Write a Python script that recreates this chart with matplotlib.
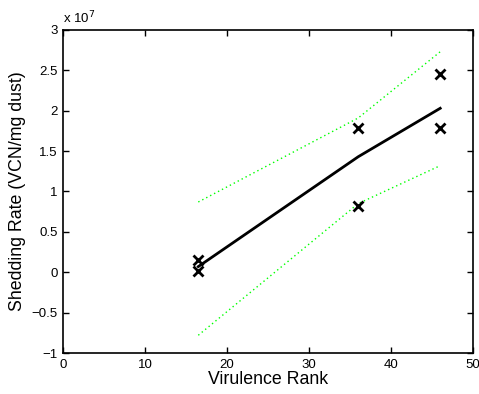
import matplotlib
matplotlib.use("Agg")
import matplotlib.pyplot as plt
import numpy as np

plt.rcParams['font.family'] = ['Liberation Sans', 'DejaVu Sans']
plt.rcParams['axes.unicode_minus'] = True

# data (values in units of 1e7)
rank = [16.5, 16.5, 36, 36, 46, 46]
shedding = [0.15, 0.02, 1.78, 0.82, 2.45, 1.78]
fit_x = [16.5, 36, 46]
fit_y = [0.07, 1.43, 2.03]
upper_y = [0.87, 1.91, 2.73]
lower_y = [-0.78, 0.85, 1.32]

x_ticks = [0, 10, 20, 30, 40, 50]
y_ticks = [-1, -0.5, 0, 0.5, 1, 1.5, 2, 2.5, 3]
y_tick_labels = ['\u22121', '\u22120.5', '0', '0.5', '1', '1.5', '2', '2.5', '3']

fig = plt.figure(figsize=(4.79, 3.94), dpi=100)
ax = fig.add_axes([0.1315, 0.104, 0.856, 0.820])

ax.plot(fit_x, fit_y, color='black', lw=2)
ax.plot(fit_x, upper_y, color='#00ff00', lw=1, linestyle=(0, (1, 2.2)))
ax.plot(fit_x, lower_y, color='#00ff00', lw=1, linestyle=(0, (1, 2.2)))
ax.plot(rank, shedding, linestyle='none', marker='x', color='black',
        markersize=7, markeredgewidth=2)

ax.set_xlim(0, 50)
ax.set_ylim(-1, 3)
ax.set_xticks(x_ticks)
ax.set_xticklabels([str(t) for t in x_ticks])
ax.set_yticks(y_ticks)
ax.set_yticklabels(y_tick_labels)
ax.tick_params(direction='in', top=True, right=True, length=4, width=1,
               labelsize=9.5, pad=4)
for s in ax.spines.values():
    s.set_linewidth(1.2)

ax.set_xlabel('Virulence Rank', fontsize=12.8, labelpad=0)
ax.set_ylabel('Shedding Rate (VCN/mg dust)', fontsize=12.8, labelpad=4)
ax.text(0.0, 1.01, 'x 10$^{7}$', transform=ax.transAxes, fontsize=9.5,
        ha='left', va='bottom')

fig.savefig('out.png', dpi=100)
